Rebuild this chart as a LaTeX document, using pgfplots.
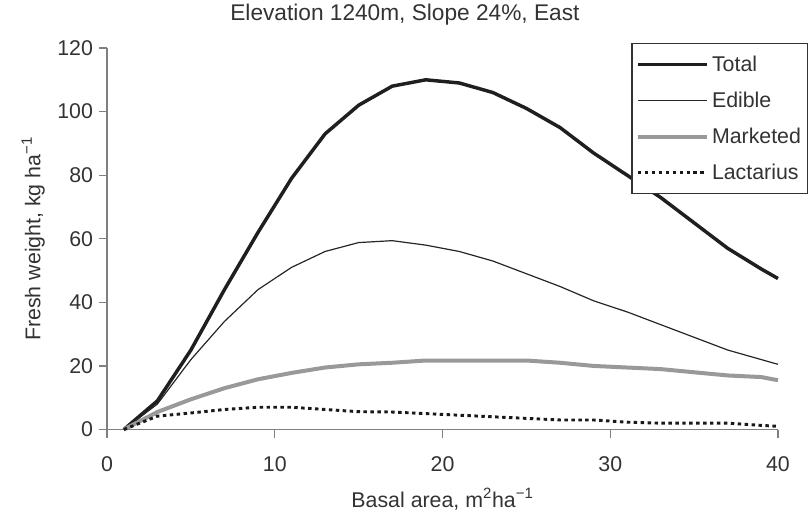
\documentclass[border=0pt]{standalone}
\usepackage{pgfplots}
\pgfplotsset{compat=1.18}
\usetikzlibrary{calc}
\usepackage{fontspec}
\setmainfont{Liberation Sans}
\definecolor{txt}{HTML}{333333}
\definecolor{axgray}{HTML}{808080}
\definecolor{mkt}{HTML}{999999}

\begin{document}
\begin{tikzpicture}
\begin{axis}[
    name=ax,
    scale only axis,
    width=503pt, height=286pt,
    xmin=0, xmax=40,
    ymin=0, ymax=120,
    xtick={0,10,20,30,40},
    ytick={0,20,40,60,80,100,120},
    axis x line*=bottom,
    axis y line*=left,
    axis line style={axgray, line width=1pt, -},
    tick style={axgray, line width=1pt},
    tick align=outside,
    major tick length=6pt,
    /pgf/number format/assume math mode=true,
    tick label style={font=\fontsize{16}{18}\selectfont, text=txt},
    xticklabel style={yshift=-11pt},
    yticklabel style={xshift=-1pt},
    label style={font=\fontsize{16}{18}\selectfont, text=txt},
    title style={font=\fontsize{17}{19}\selectfont, text=txt,
        at={(axis description cs:0.444,1.05)}, anchor=base, xshift=0pt, yshift=0pt},
    title={Elevation 1240m, Slope 24\%, East},
    xlabel={Basal area, m\textsuperscript{2}ha\textsuperscript{−1}},
    ylabel={Fresh weight, kg ha\textsuperscript{−1}},
    xlabel style={at={(axis description cs:0.5,-0.204)}, anchor=base, xshift=0pt, yshift=0pt},
    ylabel style={at={(axis description cs:-0.0994,0.5)}, anchor=base, xshift=0pt, yshift=0pt},
    clip=false,
    legend cell align=left,
    legend style={at={(1.045,1.013)}, anchor=north east, draw=txt, line width=0.8pt,
        font=\fontsize{16}{18}\selectfont, text=txt, row sep=10pt, inner xsep=3pt, inner ysep=7pt,
        /tikz/every odd column/.append style={column sep=0pt}},
    legend image code/.code={\draw[#1] (-2pt,0pt) -- (50pt,0pt);},
]
% Total
\addplot[black!88, line width=2.6pt] coordinates {
    (1,0) (3,9) (5,25) (7,44) (9,62) (11,79) (13,93) (15,102) (17,108) (19,110)
    (21,109) (23,106) (25,101) (27,95) (29,87) (31,80) (33,73) (35,65) (37,57) (39,50.5) (40,47.5)
};
% Edible
\addplot[black!85, line width=0.9pt] coordinates {
    (1,0) (3,8) (5,22) (7,34) (9,44) (11,51) (13,56) (15,58.8) (17,59.4) (19,58)
    (21,56) (23,53) (25,49) (27,45) (29,40.5) (31,37) (33,33) (35,29) (37,25) (39,22) (40,20.5)
};
% Marketed
\addplot[mkt, line width=3pt] coordinates {
    (1,0) (3,5.5) (5,9.5) (7,13) (9,15.8) (11,17.8) (13,19.5) (15,20.5) (17,21) (19,21.7)
    (21,21.7) (23,21.7) (25,21.7) (27,21) (29,20) (31,19.5) (33,19) (35,18) (37,17) (39,16.5) (40,15.5)
};
% Lactarius
\addplot[black!90, line width=2.2pt, dash pattern=on 2.6pt off 2.6pt] coordinates {
    (1,0) (3,4.2) (5,5.2) (7,6.3) (9,7) (11,7) (13,6.3) (15,5.6) (17,5.5) (19,5)
    (21,4.5) (23,4) (25,3.5) (27,3) (29,3) (31,2.3) (33,2) (35,2) (37,2) (39,1.3) (40,1)
};
\legend{Total, Edible, Marketed, Lactarius}
\end{axis}
\pgfresetboundingbox
\path[use as bounding box] ($(ax.south west)+(-80.25pt,-67.5pt)$) rectangle ($(ax.north east)+(24pt,36pt)$);
\end{tikzpicture}
\end{document}
